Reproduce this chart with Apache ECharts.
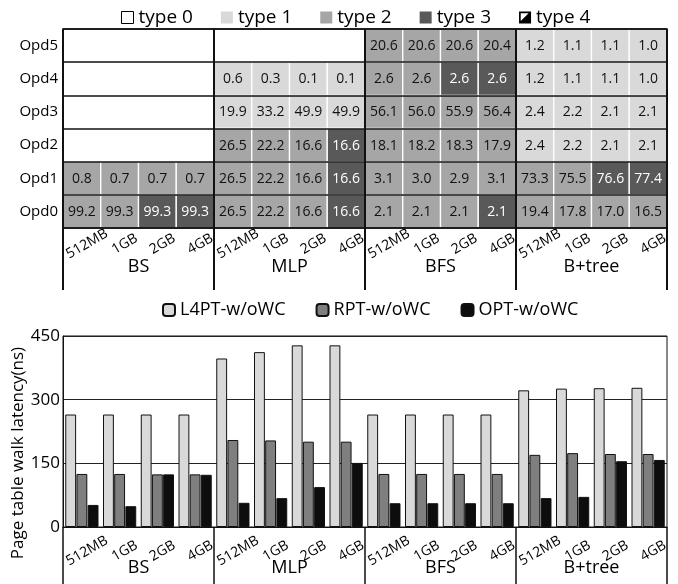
<!DOCTYPE html>
<html><head><meta charset="utf-8">
<script src="https://cdn.jsdelivr.net/npm/echarts@6/dist/echarts.min.js"></script>
<style>html,body{margin:0;padding:0;background:#fff}#c{width:678px;height:584px}</style>
</head><body><div id="c"></div>
<script>
const FONT = '"Open Sans", sans-serif';
// ---- categories ----
const sizes = ['512MB', '1GB', '2GB', '4GB'];
const groups = ['BS', 'MLP', 'BFS', 'B+tree'];
const categories = [];
groups.forEach(g => sizes.forEach(s => categories.push(g + '|' + s)));
const rowNames = ['Opd0', 'Opd1', 'Opd2', 'Opd3', 'Opd4', 'Opd5'];
const typeNames = ['type 0', 'type 1', 'type 2', 'type 3', 'type 4'];

// ---- table values (per row, 16 columns) ----
const opd0Values = [99.2, 99.3, 99.3, 99.3, 26.5, 22.2, 16.6, 16.6, 2.1, 2.1, 2.1, 2.1, 19.4, 17.8, 17.0, 16.5];
const opd0Types  = [2, 2, 3, 3, 2, 2, 2, 3, 2, 2, 2, 3, 2, 2, 2, 2];
const opd1Values = [0.8, 0.7, 0.7, 0.7, 26.5, 22.2, 16.6, 16.6, 3.1, 3.0, 2.9, 3.1, 73.3, 75.5, 76.6, 77.4];
const opd1Types  = [2, 2, 2, 2, 2, 2, 2, 3, 2, 2, 2, 2, 2, 2, 3, 3];
const opd2Values = [null, null, null, null, 26.5, 22.2, 16.6, 16.6, 18.1, 18.2, 18.3, 17.9, 2.4, 2.2, 2.1, 2.1];
const opd2Types  = [0, 0, 0, 0, 2, 2, 2, 3, 2, 2, 2, 2, 1, 1, 1, 1];
const opd3Values = [null, null, null, null, 19.9, 33.2, 49.9, 49.9, 56.1, 56.0, 55.9, 56.4, 2.4, 2.2, 2.1, 2.1];
const opd3Types  = [0, 0, 0, 0, 1, 1, 1, 1, 2, 2, 2, 2, 1, 1, 1, 1];
const opd4Values = [null, null, null, null, 0.6, 0.3, 0.1, 0.1, 2.6, 2.6, 2.6, 2.6, 1.2, 1.1, 1.1, 1.0];
const opd4Types  = [0, 0, 0, 0, 1, 1, 1, 1, 2, 2, 3, 3, 1, 1, 1, 1];
const opd5Values = [null, null, null, null, null, null, null, null, 20.6, 20.6, 20.6, 20.4, 1.2, 1.1, 1.1, 1.0];
const opd5Types  = [0, 0, 0, 0, 0, 0, 0, 0, 2, 2, 2, 2, 1, 1, 1, 1];

// ---- bar values (ns) ----
const l4ptValues = [265, 265, 265, 265, 397, 412, 428, 428, 265, 265, 265, 265, 322, 326, 327, 328];
const rptValues  = [125, 125, 124, 124, 205, 204, 201, 201, 125, 125, 125, 125, 170, 174, 172, 172];
const optValues  = [52, 49, 124, 123, 57, 68, 94, 151, 56, 56, 56, 56, 68, 71, 155, 158];
const yTicks = [0, 150, 300, 450];

const tableValues = [opd0Values, opd1Values, opd2Values, opd3Values, opd4Values, opd5Values];
const tableTypes = [opd0Types, opd1Types, opd2Types, opd3Types, opd4Types, opd5Types];
const typeColors = ['#ffffff', '#d9d9d9', '#a6a6a6', '#595959', '#000000'];

function cellSeries(t) {
  const data = [];
  tableTypes.forEach((row, yi) => row.forEach((tp, xi) => {
    if (tp === t) data.push([xi, yi, tableValues[yi][xi] == null ? '-' : tableValues[yi][xi]]);
  }));
  return {
    type: 'custom', name: typeNames[t], xAxisIndex: 0, yAxisIndex: 0,
    itemStyle: { color: typeColors[t] },
    data: data,
    renderItem: function (params, api) {
      const xi = api.value(0), yi = api.value(1), v = api.value(2);
      const c = api.coord([xi, yi]);
      const s = api.size([1, 1]);
      const children = [{
        type: 'rect',
        shape: { x: c[0] - s[0] / 2, y: c[1] - s[1] / 2, width: s[0], height: s[1] },
        style: { fill: typeColors[t], stroke: '#ffffff', lineWidth: 1.3 }
      }];
      if (typeof v === 'number' && !isNaN(v)) {
        children.push({
          type: 'text',
          style: { text: v.toFixed(1), x: c[0], y: c[1] + 0.5, align: 'center', verticalAlign: 'middle',
                   fill: t === 3 ? '#ffffff' : '#111111', fontSize: 14, fontFamily: FONT }
        });
      }
      return { type: 'group', children: children };
    }
  };
}

const type4Icon = 'path://M0,0 L100,0 L100,100 L0,100 Z M14,14 L14,80 L80,14 Z';

const chart = echarts.init(document.getElementById('c'), null, { renderer: 'canvas' });
chart.setOption({
  animation: false,
  backgroundColor: '#ffffff',
  textStyle: { fontFamily: FONT },
  legend: [{
    left: 116, top: 3, itemWidth: 12, itemHeight: 12, itemGap: 28,
    textStyle: { fontSize: 19, color: '#000', fontFamily: FONT },
    data: [
      { name: 'type 0', icon: 'rect', itemStyle: { color: '#fff', borderColor: '#000', borderWidth: 1 } },
      { name: 'type 1', icon: 'rect', itemStyle: { color: typeColors[1], borderWidth: 0 } },
      { name: 'type 2', icon: 'rect', itemStyle: { color: typeColors[2], borderWidth: 0 } },
      { name: 'type 3', icon: 'rect', itemStyle: { color: typeColors[3], borderWidth: 0 } },
      { name: 'type 4', icon: type4Icon, itemStyle: { color: '#000', borderWidth: 0 } }
    ]
  }, {
    left: 157, top: 296, itemWidth: 12, itemHeight: 12, itemGap: 30,
    textStyle: { fontSize: 18, color: '#000', fontFamily: FONT },
    data: ['L4PT-w/oWC', 'RPT-w/oWC', 'OPT-w/oWC']
  }],
  grid: [
    { left: 63, right: 11, top: 29, height: 199, show: true, borderColor: '#111', borderWidth: 1.5, backgroundColor: 'transparent', z: 10 },
    { left: 63, right: 11, top: 336, height: 191, show: true, borderColor: '#111', borderWidth: 1, backgroundColor: 'transparent' }
  ],
  xAxis: [{
    type: 'category', gridIndex: 0, data: categories, position: 'bottom',
    axisLine: { show: false }, axisTick: { show: false }, splitLine: { show: false },
    axisLabel: { interval: 0, rotate: 30, align: 'center', verticalAlign: 'middle', margin: 19,
                 padding: [0, 0, 0, 12], fontSize: 14, color: '#000', formatter: v => v.split('|')[1] }
  }, {
    type: 'category', gridIndex: 0, data: groups, position: 'bottom', z: 10,
    axisLine: { show: false },
    axisTick: { show: true, length: 62, lineStyle: { color: '#111', width: 2 } },
    splitLine: { show: true, lineStyle: { color: '#111', width: 2 } },
    axisLabel: { interval: 0, fontSize: 18, color: '#000', margin: 30 }
  }, {
    type: 'category', gridIndex: 1, data: categories, position: 'bottom',
    axisLine: { show: true, lineStyle: { color: '#111', width: 1 } }, axisTick: { show: false },
    axisLabel: { interval: 0, rotate: 30, align: 'center', verticalAlign: 'middle', margin: 27,
                 padding: [0, 0, 0, 12], fontSize: 14, color: '#000', formatter: v => v.split('|')[1] }
  }, {
    type: 'category', gridIndex: 1, data: groups, position: 'bottom',
    axisLine: { show: false },
    axisTick: { show: true, length: 57, lineStyle: { color: '#111', width: 1.5 } },
    splitLine: { show: false },
    axisLabel: { interval: 0, fontSize: 18, color: '#000', margin: 32 }
  }],
  yAxis: [{
    type: 'category', gridIndex: 0, data: rowNames, z: 10,
    axisLine: { show: false }, axisTick: { show: false },
    splitLine: { show: true, lineStyle: { color: '#111', width: 1.5 } },
    axisLabel: { fontSize: 15, color: '#000', margin: 5 }
  }, {
    type: 'value', gridIndex: 1, min: yTicks[0], max: yTicks[yTicks.length - 1], interval: 150,
    axisLine: { show: true, lineStyle: { color: '#111', width: 1 } }, axisTick: { show: false },
    splitLine: { show: true, lineStyle: { color: '#222', width: 1 } },
    axisLabel: { fontSize: 17, color: '#000', margin: 3 }
  }],
  graphic: [{
    type: 'text', x: 18, y: 453, rotation: Math.PI / 2,
    style: { text: 'Page table walk latency(ns)', fontSize: 17, fontFamily: FONT, fill: '#000',
             align: 'center', verticalAlign: 'middle' }
  }],
  series: [
    cellSeries(0), cellSeries(1), cellSeries(2), cellSeries(3), cellSeries(4),
    { type: 'bar', name: 'L4PT-w/oWC', xAxisIndex: 2, yAxisIndex: 1, data: l4ptValues,
      barCategoryGap: '12%', barGap: '3%',
      itemStyle: { color: '#d9d9d9', borderColor: '#111', borderWidth: 1 } },
    { type: 'bar', name: 'RPT-w/oWC', xAxisIndex: 2, yAxisIndex: 1, data: rptValues,
      barCategoryGap: '12%', barGap: '3%',
      itemStyle: { color: '#7f7f7f', borderColor: '#111', borderWidth: 1 } },
    { type: 'bar', name: 'OPT-w/oWC', xAxisIndex: 2, yAxisIndex: 1, data: optValues,
      barCategoryGap: '12%', barGap: '3%',
      itemStyle: { color: '#0d0d0d', borderColor: '#111', borderWidth: 1 } }
  ]
});
</script>
</body></html>
